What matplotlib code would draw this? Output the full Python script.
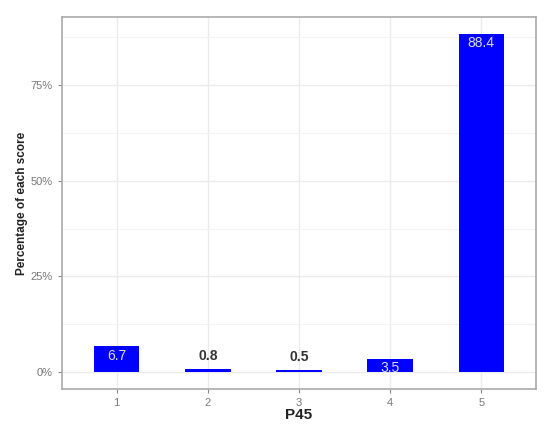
import numpy as np
import matplotlib.pyplot as plt
from matplotlib.ticker import FixedLocator

plt.rcParams['font.family'] = 'Liberation Sans'

scores = [1, 2, 3, 4, 5]
pct = [6.7, 0.8, 0.5, 3.5, 88.4]
inside = [True, False, False, True, True]
yticks = [0, 25, 50, 75]
yticklabels = ['0%', '25%', '50%', '75%']

fig = plt.figure(figsize=(5.5, 4.29), dpi=100)
ax = fig.add_axes([62/550, 1-389/429, (536-62)/550, (389-17)/429])

ax.bar(scores, pct, width=0.5, color='#0000ff', zorder=3)

for x, v, ins in zip(scores, pct, inside):
    if ins:
        ax.text(x, v - 0.6, f'{v}', ha='center', va='top', color='#dddddd',
                fontsize=10, zorder=4)
    else:
        ax.text(x, v + 1.6, f'{v}', ha='center', va='bottom', color='#333333',
                fontsize=10, fontweight='bold', zorder=4)

ax.set_xlim(0.4, 5.6)
ax.set_ylim(-4.42, 92.82)
ax.set_xticks(scores)
ax.set_xticklabels([str(s) for s in scores])
ax.set_yticks(yticks)
ax.set_yticklabels(yticklabels)
ax.yaxis.set_minor_locator(FixedLocator([12.5, 37.5, 62.5, 87.5]))

ax.grid(True, which='major', color='#ebebeb', linewidth=1.0, zorder=0)
ax.grid(True, which='minor', axis='y', color='#f2f2f2', linewidth=0.8, zorder=0)
ax.tick_params(axis='both', which='major', colors='#888888', labelsize=8,
               length=3, width=0.8, labelcolor='#777777')
ax.tick_params(axis='y', which='minor', length=0)
for s in ax.spines.values():
    s.set_color('#aaaaaa')
    s.set_linewidth(1.2)

ax.set_xlabel('P45', fontsize=11, fontweight='bold', color='#222222', labelpad=0)
ax.set_ylabel('Percentage of each score', fontsize=8.5, fontweight='bold',
              color='#222222', labelpad=2)

fig.savefig('out.png', dpi=100)
